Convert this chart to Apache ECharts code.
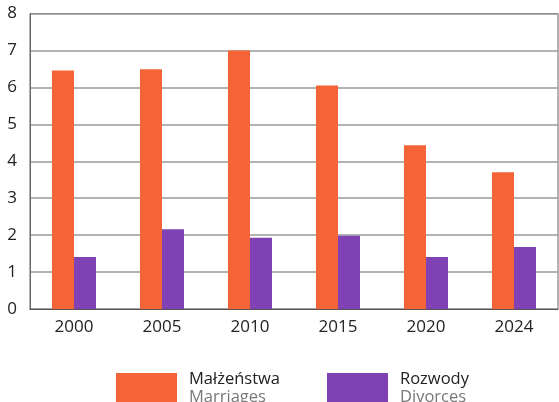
<!DOCTYPE html>
<html>
<head>
<meta charset="utf-8">
<script src="https://cdn.jsdelivr.net/npm/echarts@6/dist/echarts.min.js"></script>
<style>
html,body{margin:0;padding:0;background:#fff;}
#c{width:559px;height:402px;}
</style>
</head>
<body>
<div id="c"></div>
<script>
const categories = ['2000', '2005', '2010', '2015', '2020', '2024'];
const marriages = [6.46, 6.49, 7.0, 6.05, 4.43, 3.70];
const divorces = [1.41, 2.16, 1.93, 1.98, 1.41, 1.68];
const yTicks = [0, 1, 2, 3, 4, 5, 6, 7, 8];
const seriesNamesPL = ['Małżeństwa', 'Rozwody'];
const seriesNamesEN = ['Marriages', 'Divorces'];

const FONT = '"Open Sans", sans-serif';
const ORANGE = '#F46437';
const PURPLE = '#7F42B5';

function legendFor(i, left) {
  return {
    left: left,
    top: 371,
    padding: 0,
    itemWidth: 61,
    itemHeight: 31,
    icon: 'rect',
    selectedMode: false,
    data: [seriesNamesPL[i]],
    formatter: function (name) {
      return '{a|' + name + '}\n{b|' + seriesNamesEN[i] + '}';
    },
    textStyle: {
      fontFamily: FONT,
      rich: {
        a: { fontFamily: FONT, fontSize: 16.5, color: '#222', lineHeight: 18, padding: [0, 0, 0, 7] },
        b: { fontFamily: FONT, fontSize: 16.5, color: '#777', lineHeight: 18, padding: [0, 0, 0, 7] }
      }
    }
  };
}

const chart = echarts.init(document.getElementById('c'), null, { renderer: 'canvas' });
chart.setOption({
  animation: false,
  backgroundColor: '#fff',
  grid: {
    left: 30, right: 1, top: 13.5, bottom: 93,
    show: true, borderColor: '#666', borderWidth: 1
  },
  legend: [legendFor(0, 116), legendFor(1, 327)],
  xAxis: {
    type: 'category',
    data: categories,
    axisTick: { show: false },
    axisLine: { show: true, lineStyle: { color: '#555', width: 1 } },
    axisLabel: { color: '#222', fontFamily: FONT, fontSize: 17, margin: 10 }
  },
  yAxis: {
    type: 'value',
    min: yTicks[0],
    max: yTicks[yTicks.length - 1],
    interval: 1,
    axisLine: { show: true, lineStyle: { color: '#666' } },
    axisTick: { show: false },
    splitLine: { lineStyle: { color: '#9a9a9a', width: 1.5 } },
    axisLabel: { color: '#222', fontFamily: FONT, fontSize: 17, margin: 13 }
  },
  series: [
    {
      name: seriesNamesPL[0], type: 'bar', data: marriages,
      barWidth: 22, barGap: '0%', itemStyle: { color: ORANGE }
    },
    {
      name: seriesNamesPL[1], type: 'bar', data: divorces,
      barWidth: 22, barGap: '0%', itemStyle: { color: PURPLE }
    }
  ]
});
</script>
</body>
</html>
